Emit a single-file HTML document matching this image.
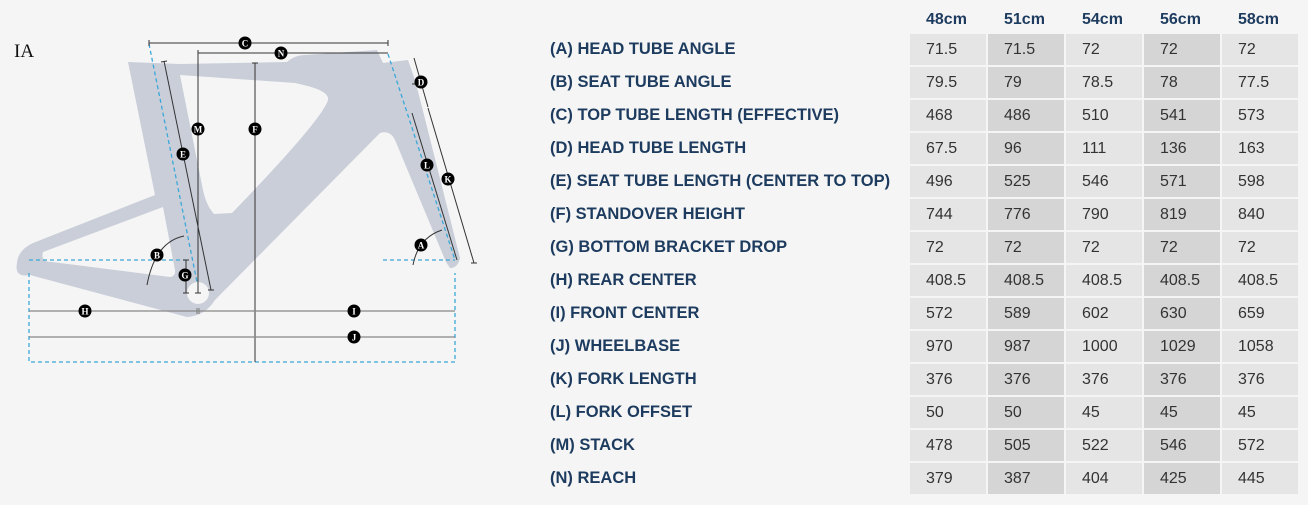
<!DOCTYPE html>
<html><head><meta charset="utf-8">
<style>
html,body{margin:0;padding:0;background:#f5f5f5;}
body{width:1308px;height:505px;position:relative;overflow:hidden;font-family:"Liberation Sans",Arial,sans-serif;}
.lbl{position:absolute;left:550px;font-weight:bold;font-size:16.5px;color:#1d3b5e;line-height:31px;white-space:nowrap;}
.hd{position:absolute;top:8px;font-weight:bold;font-size:16px;color:#1d3b5e;line-height:24px;}
.c{position:absolute;width:76px;height:31px;line-height:31px;font-size:16px;color:#333;box-sizing:border-box;padding-left:16px;}
.o{background:#e5e5e5}.e{background:#d5d5d5}
svg{position:absolute;left:0;top:0;}
</style></head><body>
<svg width="480" height="380" viewBox="0 0 480 380">
<text x="14" y="57" font-family="Liberation Serif,serif" font-size="19" fill="#111">IA</text>
<path fill="#c9ced9" fill-rule="evenodd" d="M128,62 L180,64 L287,62 Q295,55 305,55 L377,50 L383,63 L408,60 L415,80 L422,107 L460,258 Q458,268 450,268 L446,262 L395,140 Q390,130 380,133 L215,300 Q205,316 187,317 L30,275 Q14,278 17,263 Q18,250 33,243 L155,195 Z
M180,75 L295,83 Q330,90 328,100 Q322,120 232,213 L214,214 Q206,205 203,190 Z
M43,252 Q40,262 52,262 L170,277 Q176,276 175,270 L163,207 Z"/>
<circle cx="198" cy="293" r="11" fill="#f5f5f5"/>
<g stroke="#3aa8d8" stroke-width="1.3" stroke-dasharray="4,3" fill="none">
<line x1="149" y1="44" x2="197" y2="282"/>
<line x1="388" y1="54" x2="455" y2="260"/>
<line x1="29" y1="260" x2="186" y2="260"/>
<line x1="383" y1="260" x2="455" y2="260"/>
<path d="M29,273 V362 H455 V273"/>
</g>
<g stroke="#333" stroke-width="1" fill="none">
<line x1="149" y1="43" x2="388" y2="43"/><line x1="149" y1="40" x2="149" y2="46"/><line x1="388" y1="40" x2="388" y2="46"/>
<line x1="198" y1="53" x2="388" y2="53"/><line x1="198" y1="50" x2="198" y2="56"/>
<line x1="198" y1="53" x2="198" y2="293"/><line x1="195" y1="293" x2="201" y2="293"/>
<line x1="255" y1="63" x2="255" y2="362"/><line x1="252" y1="63" x2="258" y2="63"/>
<line x1="164" y1="61" x2="211" y2="290"/><line x1="161" y1="62" x2="167" y2="61"/><line x1="208" y1="290" x2="214" y2="290"/>
<line x1="414" y1="58" x2="428" y2="107"/>
<line x1="412" y1="84" x2="416" y2="84"/>
<line x1="412" y1="113" x2="457" y2="260"/>
<line x1="428" y1="108" x2="474" y2="263"/><line x1="471" y1="263" x2="477" y2="263"/>
<line x1="186" y1="260" x2="186" y2="293"/><line x1="183" y1="260" x2="189" y2="260"/><line x1="183" y1="293" x2="189" y2="293"/>
<path d="M184,236 Q155,242 147,285"/>
<path d="M442,230 Q418,238 413,265"/>
</g>
<g stroke="#888" stroke-width="1.2">
<line x1="29" y1="311" x2="455" y2="311"/><line x1="29" y1="337" x2="455" y2="337"/>
<line x1="197" y1="308" x2="197" y2="314"/><line x1="199" y1="308" x2="199" y2="314"/>
</g>
<g font-family="Liberation Serif,serif" font-weight="bold" font-size="9" fill="#fff" text-anchor="middle">
<circle cx="245" cy="43" r="6.5" fill="#000"/><text x="245" y="46.5">C</text>
<circle cx="281" cy="53" r="6.5" fill="#000"/><text x="281" y="56.5">N</text>
<circle cx="198" cy="129" r="6.5" fill="#000"/><text x="198" y="132.5">M</text>
<circle cx="255" cy="129" r="6.5" fill="#000"/><text x="255" y="132.5">F</text>
<circle cx="183" cy="154" r="6.5" fill="#000"/><text x="183" y="157.5">E</text>
<circle cx="421" cy="82" r="6.5" fill="#000"/><text x="421" y="85.5">D</text>
<circle cx="427" cy="165" r="6.5" fill="#000"/><text x="427" y="168.5">L</text>
<circle cx="448" cy="179" r="6.5" fill="#000"/><text x="448" y="182.5">K</text>
<circle cx="421" cy="245" r="6.5" fill="#000"/><text x="421" y="248.5">A</text>
<circle cx="157" cy="255" r="6.5" fill="#000"/><text x="157" y="258.5">B</text>
<circle cx="185" cy="275" r="6.5" fill="#000"/><text x="185" y="278.5">G</text>
<circle cx="85" cy="311" r="6.5" fill="#000"/><text x="85" y="314.5">H</text>
<circle cx="354" cy="311" r="6.5" fill="#000"/><text x="354" y="314.5">I</text>
<circle cx="354" cy="337" r="6.5" fill="#000"/><text x="354" y="340.5">J</text>
</g>
</svg>

<div class="hd" style="left:926px">48cm</div>
<div class="hd" style="left:1004px">51cm</div>
<div class="hd" style="left:1082px">54cm</div>
<div class="hd" style="left:1160px">56cm</div>
<div class="hd" style="left:1238px">58cm</div>

<div id="t"></div>
<script>
var rows=[["(A) HEAD TUBE ANGLE","71.5","71.5","72","72","72"],
["(B) SEAT TUBE ANGLE","79.5","79","78.5","78","77.5"],
["(C) TOP TUBE LENGTH (EFFECTIVE)","468","486","510","541","573"],
["(D) HEAD TUBE LENGTH","67.5","96","111","136","163"],
["(E) SEAT TUBE LENGTH (CENTER TO TOP)","496","525","546","571","598"],
["(F) STANDOVER HEIGHT","744","776","790","819","840"],
["(G) BOTTOM BRACKET DROP","72","72","72","72","72"],
["(H) REAR CENTER","408.5","408.5","408.5","408.5","408.5"],
["(I) FRONT CENTER","572","589","602","630","659"],
["(J) WHEELBASE","970","987","1000","1029","1058"],
["(K) FORK LENGTH","376","376","376","376","376"],
["(L) FORK OFFSET","50","50","45","45","45"],
["(M) STACK","478","505","522","546","572"],
["(N) REACH","379","387","404","425","445"]];
var h="";
rows.forEach(function(r,i){var y=34+i*33;
h+='<div class="lbl" style="top:'+y+'px">'+r[0]+'</div>';
for(var j=0;j<5;j++){h+='<div class="c '+(j%2?'e':'o')+'" style="left:'+(910+j*78)+'px;top:'+y+'px">'+r[j+1]+'</div>';}
});
document.getElementById("t").innerHTML=h;
</script>
</body></html>
